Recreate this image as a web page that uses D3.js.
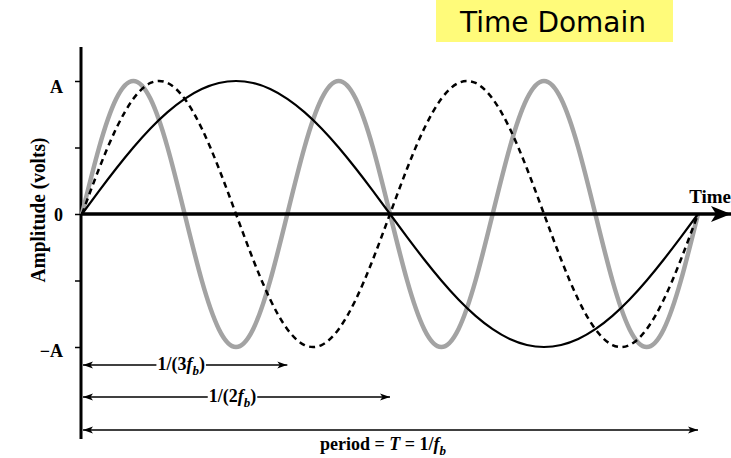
<!DOCTYPE html>
<html>
<head>
<meta charset="utf-8">
<script src="https://cdn.jsdelivr.net/npm/d3@7"></script>
<style>
  html, body { margin: 0; padding: 0; background: #fff; }
  svg { display: block; }
</style>
</head>
<body>
<svg id="chart" width="731" height="458"></svg>
<script>
// Time position of each sample, as a fraction of one period T = 1/f_b
const timeSteps = [0, 1, 2, 3, 4, 5, 6, 7, 8, 9, 10, 11, 12, 13, 14, 15, 16, 17, 18,
  19, 20, 21, 22, 23, 24, 25, 26, 27, 28, 29, 30, 31, 32, 33, 34, 35, 36];
const stepsPerPeriod = 36;

// Amplitude (in units of A) of the fundamental, f_b
const waveFb = [0, 0.174, 0.342, 0.5, 0.643, 0.766, 0.866, 0.94, 0.985, 1,
  0.985, 0.94, 0.866, 0.766, 0.643, 0.5, 0.342, 0.174, 0,
  -0.174, -0.342, -0.5, -0.643, -0.766, -0.866, -0.94, -0.985, -1,
  -0.985, -0.94, -0.866, -0.766, -0.643, -0.5, -0.342, -0.174, 0];

// Second harmonic, 2f_b
const wave2Fb = [0, 0.342, 0.643, 0.866, 0.985, 0.985, 0.866, 0.643, 0.342, 0,
  -0.342, -0.643, -0.866, -0.985, -0.985, -0.866, -0.643, -0.342, 0,
  0.342, 0.643, 0.866, 0.985, 0.985, 0.866, 0.643, 0.342, 0,
  -0.342, -0.643, -0.866, -0.985, -0.985, -0.866, -0.643, -0.342, 0];

// Third harmonic, 3f_b
const wave3Fb = [0, 0.5, 0.866, 1, 0.866, 0.5, 0, -0.5, -0.866, -1, -0.866, -0.5,
  0, 0.5, 0.866, 1, 0.866, 0.5, 0, -0.5, -0.866, -1, -0.866, -0.5,
  0, 0.5, 0.866, 1, 0.866, 0.5, 0, -0.5, -0.866, -1, -0.866, -0.5, 0];

// Amplitude ticks and their labels
const ampTicks = [1, 0.5, 0, -0.5, -1];
const ampLabels = { "1": "A", "0": "0", "-1": "\u2212A" };

// Interval markers below the axis (end time as a fraction of T)
const intervals = [
  { end: 1 / 3, label: ["1/(3", "f", "b", ")"] },
  { end: 1 / 2, label: ["1/(2", "f", "b", ")"] },
  { end: 1, label: null }
];

const svg = d3.select("#chart");
const serif = "'Liberation Serif', 'Times New Roman', serif";

const x = d3.scaleLinear().domain([0, 1]).range([82, 698]);
const y = d3.scaleLinear().domain([-1, 1]).range([347, 81]);

// Arrow markers
const defs = svg.append("defs");
defs.append("marker")
  .attr("id", "arrowEnd").attr("viewBox", "0 0 10 10")
  .attr("refX", 10).attr("refY", 5)
  .attr("markerWidth", 10).attr("markerHeight", 10)
  .attr("markerUnits", "userSpaceOnUse").attr("orient", "auto")
  .append("path").attr("d", "M0,1.5 L10,5 L0,8.5 L2.5,5 Z").attr("fill", "#000");
defs.append("marker")
  .attr("id", "arrowStart").attr("viewBox", "0 0 10 10")
  .attr("refX", 0).attr("refY", 5)
  .attr("markerWidth", 10).attr("markerHeight", 10)
  .attr("markerUnits", "userSpaceOnUse").attr("orient", "auto")
  .append("path").attr("d", "M10,1.5 L0,5 L10,8.5 L7.5,5 Z").attr("fill", "#000");
defs.append("marker")
  .attr("id", "axisArrow").attr("viewBox", "0 0 20 16")
  .attr("refX", 20).attr("refY", 8)
  .attr("markerWidth", 20).attr("markerHeight", 16)
  .attr("markerUnits", "userSpaceOnUse").attr("orient", "auto")
  .append("path").attr("d", "M0,0 L20,8 L0,16 L5,8 Z").attr("fill", "#000");

// Title box
svg.append("rect").attr("x", 436).attr("y", 0).attr("width", 237).attr("height", 42)
  .attr("fill", "#fffb7a");
svg.append("text").attr("x", 553).attr("y", 32).attr("text-anchor", "middle")
  .attr("font-family", "'DejaVu Sans', Verdana, sans-serif").attr("font-size", 28)
  .attr("fill", "#000").text("Time Domain");

// Vertical amplitude axis
const yAxis = d3.axisLeft(y).tickValues(ampTicks).tickSize(6).tickFormat("");
const gy = svg.append("g").attr("transform", "translate(81,0)").call(yAxis);
gy.select(".domain").remove();
gy.selectAll(".tick line").attr("stroke", "#000").attr("stroke-width", 1.5);
svg.append("line").attr("x1", 81).attr("x2", 81).attr("y1", 47).attr("y2", 439)
  .attr("stroke", "#000").attr("stroke-width", 3);

const labelDrop = { "1": 12, "0": 7, "-1": 10 };
svg.selectAll(".amp-label").data(ampTicks.filter(d => ampLabels[d] !== undefined))
  .enter().append("text")
  .attr("x", 63).attr("y", d => y(d) + labelDrop[d])
  .attr("text-anchor", "end")
  .attr("font-family", serif).attr("font-weight", "bold").attr("font-size", 18)
  .text(d => ampLabels[d]);

svg.append("text")
  .attr("transform", "translate(45,210) rotate(-90)")
  .attr("text-anchor", "middle")
  .attr("font-family", serif).attr("font-weight", "bold").attr("font-size", 20)
  .attr("textLength", 145).attr("lengthAdjust", "spacingAndGlyphs")
  .text("Amplitude (volts)");

// Waves
const timeOf = i => timeSteps[i] / stepsPerPeriod;
const line = d3.line().x((d, i) => x(timeOf(i))).y(d => y(d)).curve(d3.curveNatural);

svg.append("path").datum(wave3Fb).attr("d", line)
  .attr("fill", "none").attr("stroke", "#a3a3a3").attr("stroke-width", 4.5);
svg.append("path").datum(wave2Fb).attr("d", line)
  .attr("fill", "none").attr("stroke", "#000").attr("stroke-width", 2.5)
  .attr("stroke-dasharray", "6,4.5");
svg.append("path").datum(waveFb).attr("d", line)
  .attr("fill", "none").attr("stroke", "#000").attr("stroke-width", 2.2);

// Horizontal time axis
svg.append("line").attr("x1", 81).attr("x2", 731).attr("y1", y(0)).attr("y2", y(0))
  .attr("stroke", "#000").attr("stroke-width", 3.5).attr("marker-end", "url(#axisArrow)");
svg.append("text").attr("x", 731).attr("y", 203).attr("text-anchor", "end")
  .attr("font-family", serif).attr("font-weight", "bold").attr("font-size", 19)
  .text("Time");

// Interval arrows
const rowY = [365, 397, 430];
intervals.forEach((iv, k) => {
  const yy = rowY[k];
  const x0 = x(0) + 1, x1 = x(iv.end);
  if (iv.label) {
    const t = svg.append("text")
      .attr("x", (x0 + x1) / 2 - 4).attr("y", yy + 5).attr("text-anchor", "middle")
      .attr("font-family", serif).attr("font-weight", "bold").attr("font-size", 18);
    t.append("tspan").text(iv.label[0]);
    t.append("tspan").attr("font-style", "italic").text(iv.label[1]);
    t.append("tspan").attr("font-style", "italic").attr("font-size", 13).attr("dy", 5).text(iv.label[2]);
    t.append("tspan").attr("dy", -5).text(iv.label[3]);
    const bb = t.node().getBBox();
    svg.append("line").attr("x1", x0).attr("x2", bb.x - 1).attr("y1", yy).attr("y2", yy)
      .attr("stroke", "#000").attr("stroke-width", 1.3).attr("marker-start", "url(#arrowStart)");
    svg.append("line").attr("x1", bb.x + bb.width + 1).attr("x2", x1).attr("y1", yy).attr("y2", yy)
      .attr("stroke", "#000").attr("stroke-width", 1.3).attr("marker-end", "url(#arrowEnd)");
  } else {
    svg.append("line").attr("x1", x0).attr("x2", x1).attr("y1", yy).attr("y2", yy)
      .attr("stroke", "#000").attr("stroke-width", 1.3)
      .attr("marker-start", "url(#arrowStart)").attr("marker-end", "url(#arrowEnd)");
  }
});

// Period label
const pt = svg.append("text").attr("x", 383).attr("y", 450).attr("text-anchor", "middle")
  .attr("font-family", serif).attr("font-weight", "bold").attr("font-size", 18);
pt.append("tspan").text("period = ");
pt.append("tspan").attr("font-style", "italic").text("T");
pt.append("tspan").text(" = 1/");
pt.append("tspan").attr("font-style", "italic").text("f");
pt.append("tspan").attr("font-style", "italic").attr("font-size", 13).attr("dy", 5).text("b");
</script>
</body>
</html>
